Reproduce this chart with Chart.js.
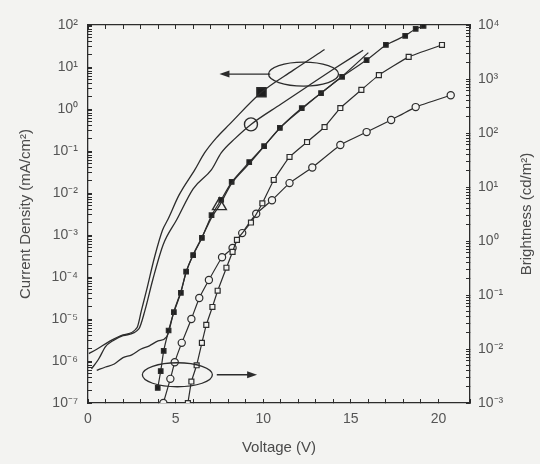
<!DOCTYPE html>
<html>
<head>
<meta charset="utf-8">
<script src="https://cdn.jsdelivr.net/npm/chart.js@4.4.1/dist/chart.umd.min.js"></script>
<style>
  html, body { margin: 0; padding: 0; background: #f3f3f1; }
  #wrap { width: 540px; height: 464px; position: relative; }
</style>
</head>
<body>
<div id="wrap"><canvas id="ivl"></canvas></div>
<script>
// current density curves (left axis, mA/cm2)
var voltA = [0.05, 0.5, 1.2, 2.0, 2.8, 3.05, 3.35, 3.8, 4.25, 4.55, 5.2, 6.1, 6.65, 7.3, 8.07, 9.9, 11.7, 13.5];
var curA  = [1.5e-6, 1.9e-6, 2.9e-6, 4.2e-6, 6.2e-6, 1.6e-5, 5e-5, 3e-4, 1.3e-3, 2.3e-3, 9e-3, 0.036, 0.09, 0.2, 0.43, 2.5, 8.3, 26];
var voltB = [0.2, 0.6, 1.0, 1.4, 2.0, 2.9, 3.25, 3.7, 4.3, 5.06, 6.0, 7.05, 7.6, 8.4, 9.3, 11.0, 12.5, 14.0, 15.7];
var curB  = [6.5e-7, 1.1e-6, 2.2e-6, 3.0e-6, 4.0e-6, 5.8e-6, 1.6e-5, 8.7e-5, 6e-4, 2.3e-3, 0.0126, 0.036, 0.09, 0.2, 0.43, 1.3, 3.4, 8.8, 25];
var voltC = [0.5, 1.0, 1.5, 2.0, 2.5, 3.0, 3.5, 4.0, 4.5, 4.9, 5.3, 5.6, 6.0, 6.5, 7.05, 7.5, 8.2, 9.2, 10.05, 10.95, 12.2, 13.3, 14.5, 16.0];
var curC  = [6e-7, 7.2e-7, 8.5e-7, 1.2e-6, 1.4e-6, 1.9e-6, 2.3e-6, 3.0e-6, 3.8e-6, 1.5e-5, 4.5e-5, 1.3e-4, 3.4e-4, 8.7e-4, 2.6e-3, 5e-3, 0.017, 0.05, 0.13, 0.35, 1.0, 2.4, 6, 22];

// brightness curves (right axis, cd/m2)
var voltFilledSq = [3.98, 4.15, 4.32, 4.6, 4.9, 5.3, 5.6, 6.0, 6.5, 7.05, 7.6, 8.2, 9.2, 10.05, 10.95, 12.2, 13.3, 14.5, 15.9, 17.0, 18.1, 18.7, 19.15];
var lumFilledSq  = [1.9e-3, 3.9e-3, 9.2e-3, 0.022, 0.048, 0.11, 0.27, 0.55, 1.14, 3.0, 5.8, 12.4, 29, 57, 124, 290, 550, 1100, 2240, 4270, 6300, 8500, 9600];
var voltOpenSq = [5.7, 5.9, 6.2, 6.5, 6.75, 7.1, 7.4, 7.9, 8.25, 8.5, 9.3, 9.95, 10.6, 11.5, 12.5, 13.5, 14.4, 15.6, 16.6, 18.3, 20.2];
var lumOpenSq  = [1.0e-3, 2.5e-3, 5e-3, 0.013, 0.028, 0.06, 0.12, 0.32, 0.63, 1.05, 2.2, 5.0, 13.5, 36, 68, 129, 290, 630, 1180, 2570, 4270];
var voltOpenCirc = [4.3, 4.7, 4.95, 5.35, 5.9, 6.35, 6.9, 7.65, 8.25, 8.8, 9.6, 10.5, 11.5, 12.8, 14.4, 15.9, 17.3, 18.7, 20.7];
var lumOpenCirc  = [1.0e-3, 2.8e-3, 5.7e-3, 0.013, 0.036, 0.088, 0.19, 0.5, 0.74, 1.4, 3.2, 5.7, 11.8, 23, 60, 104, 174, 302, 500];

// big legend-like markers sitting on the current curves
var markA = {v: 9.9, j: 2.5};
var markB = {v: 9.3, j: 0.43};
var markC = {v: 7.5, j: 5e-3};

// axis ranges and ticks
var voltMin = 0, voltMax = 21.8;
var leftDecades = [-7, 2];
var rightDecades = [-3, 4];
var voltLabels = [0, 5, 10, 15, 20];

// ellipse + arrow call-outs (data units)
var ovalCurrent = {v: 12.3, j: 6.8, arrowFrom: 10.4, arrowTo: 7.5};
var ovalBright = {v: 5.1, j: 4.7e-7, arrowFrom: 7.35, arrowTo: 9.65};

var bg = '#f3f3f1';
var ink = '#2c2c2c';
var sup = {'-': '\u207B', '0': '\u2070', '1': '\u00B9', '2': '\u00B2', '3': '\u00B3',
  '4': '\u2074', '5': '\u2075', '6': '\u2076', '7': '\u2077', '8': '\u2078', '9': '\u2079'};

function zip(xs, ys) {
  return xs.map(function (x, i) { return {x: x, y: ys[i]}; });
}

function powLabel(v) {
  var e = Math.log10(v);
  var r = Math.round(e);
  if (Math.abs(e - r) > 1e-6) return '';
  return '10' + String(r).split('').map(function (c) { return sup[c]; }).join('');
}

function logTicks(range) {
  return function (scale) {
    var t = [];
    for (var e = range[0]; e < range[1]; e++) {
      for (var m = 1; m < 10; m++) t.push({value: m * Math.pow(10, e)});
    }
    t.push({value: Math.pow(10, range[1])});
    scale.ticks = t;
  };
}

function curve(data, axis) {
  return {data: data, yAxisID: axis, borderColor: ink, borderWidth: 1.3,
    pointRadius: 0, cubicInterpolationMode: 'monotone', fill: false};
}

function marked(data, style, radius, filled) {
  return {data: data, yAxisID: 'y2', borderColor: ink, borderWidth: 1.2,
    pointStyle: style, pointRadius: radius, pointBorderWidth: 1.2,
    pointBackgroundColor: filled ? '#1e1e1e' : bg, pointBorderColor: ink,
    tension: 0.1, fill: false};
}

function bigMark(p, style, radius, filled) {
  return {data: [{x: p.v, y: p.j}], yAxisID: 'y', showLine: false,
    pointStyle: style, pointRadius: radius, pointBorderWidth: 1.4,
    pointBackgroundColor: filled ? '#1e1e1e' : 'rgba(0,0,0,0)', pointBorderColor: ink};
}

var paper = {
  id: 'paper',
  beforeDraw: function (chart) {
    var c = chart.ctx;
    c.save();
    c.fillStyle = bg;
    c.fillRect(0, 0, chart.width, chart.height);
    c.restore();
  },
  afterDatasetsDraw: function (chart) {
    var c = chart.ctx, sx = chart.scales.x, sy = chart.scales.y;
    function oval(o) {
      var cx = sx.getPixelForValue(o.v), cy = sy.getPixelForValue(o.j);
      var rx = 35, ry = 12;
      c.beginPath();
      c.ellipse(cx, cy, rx, ry, 0, 0, Math.PI * 2);
      c.stroke();
      var x0 = sx.getPixelForValue(o.arrowFrom), x1 = sx.getPixelForValue(o.arrowTo);
      var dir = x1 > x0 ? 1 : -1;
      c.beginPath();
      c.moveTo(x0, cy);
      c.lineTo(x1 - dir * 8, cy);
      c.stroke();
      c.beginPath();
      c.moveTo(x1, cy);
      c.lineTo(x1 - dir * 10, cy - 3.5);
      c.lineTo(x1 - dir * 10, cy + 3.5);
      c.closePath();
      c.fill();
    }
    c.save();
    c.strokeStyle = ink;
    c.fillStyle = ink;
    c.lineWidth = 1.3;
    oval(ovalCurrent);
    oval(ovalBright);

    // right axis title reads bottom-to-top like the left one
    var a = chart.chartArea;
    c.translate(527, (a.top + a.bottom) / 2);
    c.rotate(-Math.PI / 2);
    c.font = '15px "Liberation Sans", Arial, sans-serif';
    c.fillStyle = '#4a4a4a';
    c.textAlign = 'center';
    c.textBaseline = 'middle';
    c.fillText('Brightness (cd/m\u00B2)', 0, 0);
    c.restore();
  }
};

var tickFont = {family: '"Liberation Sans", Arial, sans-serif', size: 14};
var titleFont = {family: '"Liberation Sans", Arial, sans-serif', size: 15};

var ctx = document.getElementById('ivl').getContext('2d');
var ivlChart = new Chart(ctx, {
  type: 'line',
  data: {
    datasets: [
      curve(zip(voltA, curA), 'y'),
      curve(zip(voltB, curB), 'y'),
      curve(zip(voltC, curC), 'y'),
      marked(zip(voltFilledSq, lumFilledSq), 'rect', 3.2, true),
      marked(zip(voltOpenSq, lumOpenSq), 'rect', 3.5, false),
      marked(zip(voltOpenCirc, lumOpenCirc), 'circle', 3.6, false),
      bigMark(markA, 'rect', 6.5, true),
      bigMark(markB, 'circle', 6.5, false),
      bigMark(markC, 'triangle', 8, false)
    ]
  },
  options: {
    responsive: true,
    maintainAspectRatio: false,
    animation: false,
    layout: {padding: 0},
    plugins: {legend: {display: false}, tooltip: {enabled: false}},
    scales: {
      x: {
        type: 'linear', position: 'bottom', min: voltMin, max: voltMax,
        ticks: {
          stepSize: 1, autoSkip: false, maxRotation: 0, color: '#555', font: tickFont, padding: 12,
          callback: function (v) { return voltLabels.indexOf(v) >= 0 ? String(v) : ''; }
        },
        grid: {drawOnChartArea: false, tickLength: -4, color: ink},
        border: {color: ink, width: 1.3},
        title: {display: true, text: 'Voltage (V)', color: '#4a4a4a', font: titleFont, padding: {top: 0, bottom: 7}},
        afterFit: function (s) { s.height = 61; }
      },
      xTop: {
        type: 'linear', position: 'top', min: voltMin, max: voltMax,
        ticks: {display: false, stepSize: 1},
        grid: {drawOnChartArea: false, tickLength: -4, color: ink},
        border: {color: ink, width: 1.3},
        afterFit: function (s) { s.height = 25; }
      },
      y: {
        type: 'logarithmic', position: 'left',
        min: Math.pow(10, leftDecades[0]), max: Math.pow(10, leftDecades[1]),
        afterBuildTicks: logTicks(leftDecades),
        ticks: {autoSkip: false, color: '#555', font: tickFont, padding: 14, callback: powLabel},
        grid: {drawOnChartArea: false, tickLength: -4, color: ink},
        border: {color: ink, width: 1.3},
        title: {display: true, text: 'Current Density (mA/cm\u00B2)', color: '#4a4a4a', font: titleFont, padding: {top: 17, bottom: 0}},
        afterFit: function (s) { s.width = 88; }
      },
      y2: {
        type: 'logarithmic', position: 'right',
        min: Math.pow(10, rightDecades[0]), max: Math.pow(10, rightDecades[1]),
        afterBuildTicks: logTicks(rightDecades),
        ticks: {autoSkip: false, color: '#555', font: tickFont, padding: 12, callback: powLabel},
        grid: {drawOnChartArea: false, tickLength: -4, color: ink},
        border: {color: ink, width: 1.3},
        afterFit: function (s) { s.width = 70; }
      }
    }
  },
  plugins: [paper]
});
</script>
</body>
</html>
